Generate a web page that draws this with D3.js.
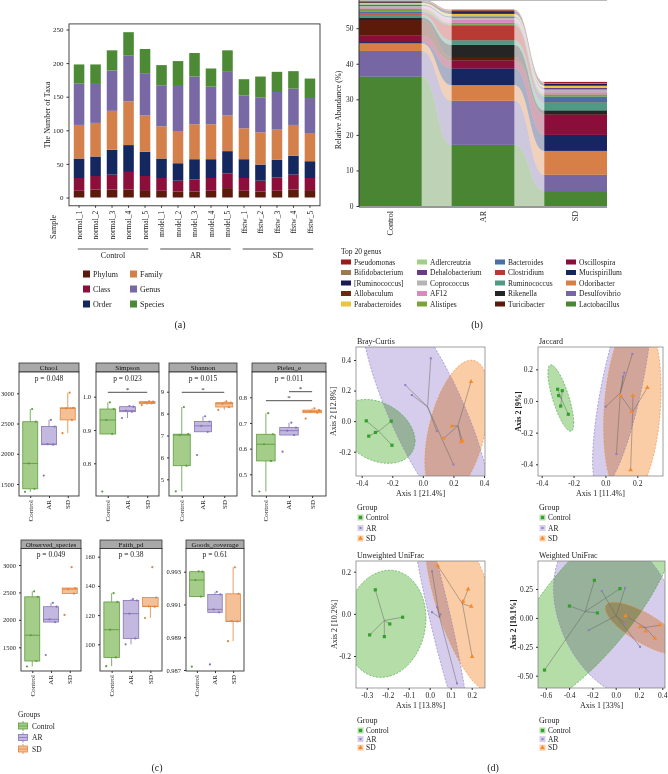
<!DOCTYPE html>
<html><head><meta charset="utf-8">
<script src="https://cdn.jsdelivr.net/npm/d3@7"></script>
<style>
body{margin:0;background:#fff}
svg{display:block;font-family:"Liberation Serif","DejaVu Serif",serif}
</style></head><body>
<svg id="fig" width="668" height="774"></svg>
<script>
// ---------- data: (a) number of taxa ----------
const samples = ["normal_1","normal_2","normal_3","normal_4","normal_5","model_1","model_2","model_3","model_4","model_5","ffstw_1","ffstw_2","ffstw_3","ffstw_4","ffstw_5"];
const taxaLevels = ["Phylum","Class","Order","Family","Genus","Species"];
const phylumN  = [10,12,12,12,11,10, 9, 9,10,14,10, 9,10,12,11];
const classN   = [19,20,22,26,21,19,16,18,19,22,19,16,20,22,18];
const orderN   = [29,29,37,40,36,29,26,30,28,33,28,24,26,28,25];
const familyN  = [50,50,58,65,54,48,48,52,52,53,46,48,45,46,42];
const genusN   = [62,58,60,68,63,61,67,71,56,65,49,52,56,54,52];
const speciesN = [28,29,30,35,36,30,37,35,27,32,24,31,30,26,29];
const taxaColors = ["#5b1a0c","#8c0f3b","#14275f","#d4804a","#7868a3","#4c8a36"];
const sampleGroups = [["Control",0,4],["AR",5,9],["SD",10,14]];

// ---------- data: (b) top 20 genus ----------
const genera = ["Pseudomonas","Bifidobacterium","[Ruminococcus]","Allobaculum","Parabacteroides","Adlercreutzia","Dehalobacterium","Coprococcus","AF12","Alistipes","Bacteroides","Clostridium","Ruminococcus","Rikenella","Turicibacter","Oscillospira","Mucispirillum","Odoribacter","Desulfovibrio","Lactobacillus"];
const genusColors = ["#9b1b1b","#9c7a4f","#1b1858","#6b2a10","#e8c440","#9fd08a","#6a3a8a","#b5b5b8","#d88ac0","#7aa43a","#4a6fa5","#b83a32","#4f9a85","#252525","#5c1a0b","#8b0d3a","#162660","#d67f46","#7766a4","#4a8534"];
const abundGroups = ["Control","AR","SD"];
const abundControl = [0.3,0.2,0.2,0.2,0.2,0.3,0.3,0.4,0.4,0.9,0.5,0.3,0.8,0.7,4.4,1.8,0.3,2.2,7.2,36.4];
const abundAR      = [0.2,0.2,0.5,0.3,0.3,0.4,0.3,0.6,0.9,0.5,0.3,4.1,1.3,3.4,1.0,2.2,4.7,4.4,12.4,17.2];
const abundSD      = [0.3,0.2,0.4,0.2,0.4,0.2,0.4,0.8,0.6,0.6,1.3,0.3,2.3,1.1,0.2,5.6,4.5,6.7,4.6,4.2];

// ---------- data: (c) alpha diversity (Control, AR, SD) ----------
const alphaGroups = ["Control","AR","SD"];
const chao1    = [[1370,1420,1840,2530,2740],[1640,2150,2160,2450,2560],[2340,2560,2750,2760,3010]];
const simpson  = [[0.715,0.888,0.930,0.963,0.983],[0.936,0.955,0.958,0.970,0.972],[0.975,0.980,0.982,0.985,0.986]];
const shannon  = [[4.45,5.62,7.02,7.06,8.30],[6.11,7.17,7.44,7.64,7.88],[8.17,8.30,8.45,8.50,8.56]];
const pielou   = [[0.433,0.552,0.617,0.656,0.738],[0.588,0.653,0.670,0.682,0.701],[0.717,0.740,0.745,0.750,0.757]];
const observed = [[1150,1250,1720,2420,2520],[1360,1960,2010,2240,2310],[2090,2480,2560,2580,2960]];
const faithPd  = [[85,91,110,129,135],[100,104,121,130,131],[118,125.8,126,132,152.8]];
const goods    = [[0.98720,0.99148,0.99249,0.99300,0.99302],[0.98734,0.99052,0.99070,0.99161,0.99177],[0.98876,0.98996,0.98998,0.99165,0.99327]];
const alphaNames = ["Chao1","Simpson","Shannon","Pieleu_e","Observed_species","Faith_pd","Goods_coverage"];
const alphaP = ["p = 0.048","p = 0.023","p = 0.015","p = 0.011","p = 0.049","p = 0.38","p = 0.61"];

// ---------- data: (d) PCoA coordinates ----------
const brayControl = [[-0.370,0.002],[-0.310,-0.074],[-0.354,-0.098],[-0.207,0.000],[-0.202,-0.158]];
const brayAR      = [[0.052,0.411],[-0.115,0.236],[-0.072,0.171],[0.091,-0.066],[0.200,-0.284]];
const braySD      = [[0.315,0.258],[0.189,-0.033],[0.135,-0.114],[0.250,-0.136],[0.259,-0.129]];
const jacControl  = [[-0.300,0.074],[-0.271,0.065],[-0.294,0.034],[-0.281,-0.032],[-0.233,-0.084]];
const jacAR       = [[0.169,0.297],[0.119,0.179],[0.110,0.154],[0.002,-0.036],[0.069,-0.335]];
const jacSD       = [[0.096,0.034],[0.173,0.034],[0.263,0.084],[0.163,-0.067],[0.158,-0.436]];
const uwControl   = [[-0.259,0.114],[-0.286,-0.100],[-0.216,-0.108],[-0.190,-0.048],[-0.129,-0.016]];
const uwAR        = [[0.011,0.202],[0.035,0.032],[0.051,-0.002],[0.011,0.008],[0.130,-0.330]];
const uwSD        = [[0.038,0.229],[0.183,0.117],[0.159,0.059],[0.198,0.035],[0.202,-0.203]];
const wControl    = [[-0.611,-0.451],[-0.397,0.103],[-0.183,0.325],[-0.157,0.043],[0.037,0.253]];
const wAR         = [[-0.120,0.233],[0.080,0.260],[-0.231,-0.106],[0.080,-0.049],[0.209,-0.250]];
const wSD         = [[0.086,0.017],[0.209,-0.078],[0.257,-0.115],[0.380,-0.063],[0.337,-0.178]];

const SERIF = '"Liberation Serif","DejaVu Serif",serif';
const svg = d3.select("#fig");
svg.append("rect").attr("width",668).attr("height",774).attr("fill","#fff");

function styleAxis(sel, size) {
	sel.select(".domain").remove();
	sel.selectAll("text").style("font-family",SERIF).style("font-size",size+"px").attr("fill","#222");
	sel.selectAll("line").attr("stroke","#333");
}
function rotLabel(g, x, y, text, size) {
	g.append("text")
		.attr("transform","translate("+x+","+y+") rotate(-90)")
		.attr("text-anchor","end")
		.attr("dy","0.35em")
		.style("font-size",size+"px")
		.attr("fill","#222")
		.text(text);
}
const minusFmt = f => d => d3.format(f)(d).replace("\u2212","-");

// =============== (a) ===============
const gA = svg.append("g");
const xA = d3.scaleBand().domain(samples).range([69,320]).paddingInner(0.36).paddingOuter(0.29);
const yA = d3.scaleLinear().domain([0,250]).range([197.5,29.5]);
const taxaCounts = [phylumN,classN,orderN,familyN,genusN,speciesN];
const taxaRows = samples.map((s,i) => {
	const o = {sample:s};
	taxaLevels.forEach((l,j) => o[l] = taxaCounts[j][i]);
	return o;
});
gA.selectAll("g.layer")
	.data(d3.stack().keys(taxaLevels)(taxaRows))
	.join("g")
	.attr("fill",(d,i) => taxaColors[i])
	.selectAll("rect")
	.data(d => d)
	.join("rect")
	.attr("x",d => xA(d.data.sample))
	.attr("width",xA.bandwidth())
	.attr("y",d => yA(d[1]))
	.attr("height",d => yA(d[0]) - yA(d[1]));
gA.append("rect")
	.attr("x",69).attr("y",yA(258.3))
	.attr("width",251).attr("height",yA(-12.3) - yA(258.3))
	.attr("fill","none").attr("stroke","#333").attr("stroke-width",0.9);
gA.append("g").attr("transform","translate(69,0)")
	.call(d3.axisLeft(yA).tickValues([0,50,100,150,200,250]).tickSize(2.5))
	.call(styleAxis,7);
gA.append("g").attr("transform","translate(0,"+yA(-12.3)+")")
	.call(d3.axisBottom(xA).tickSize(2).tickFormat(""))
	.call(styleAxis,7);
samples.forEach(s => rotLabel(gA, xA(s) + xA.bandwidth()/2, yA(-12.3) + 5, s, 7.5));
gA.append("text")
	.attr("transform","translate(47,115) rotate(-90)")
	.attr("text-anchor","middle").attr("dy","0.35em")
	.style("font-size","8px").attr("fill","#222").text("The Number of Taxa");
gA.append("text")
	.attr("transform","translate(53,227) rotate(-90)")
	.attr("text-anchor","middle").attr("dy","0.35em")
	.style("font-size","8px").attr("fill","#222").text("Sample");
sampleGroups.forEach(([name,a,b],i) => {
	const x0 = xA(samples[a]) + 4, x1 = xA(samples[b]) + xA.bandwidth() - 2;
	gA.append("line").attr("x1",x0).attr("x2",x1).attr("y1",249).attr("y2",249)
		.attr("stroke",i === 0 ? "#333" : "#888").attr("stroke-width",i === 0 ? 0.8 : 1.3);
	gA.append("text").attr("x",(x0+x1)/2).attr("y",258).attr("text-anchor","middle")
		.style("font-size","8px").attr("fill","#222").text(name);
});
taxaLevels.forEach((l,i) => {
	const col = Math.floor(i/3), row = i % 3;
	const lx = 83 + col*47, ly = 274 + row*15;
	gA.append("rect").attr("x",lx).attr("y",ly-3.5).attr("width",7).attr("height",7).attr("fill",taxaColors[i]);
	gA.append("text").attr("x",lx+10).attr("y",ly).attr("dy","0.35em")
		.style("font-size","8px").attr("fill","#222").text(l);
});
svg.append("text").attr("x",180).attr("y",328).attr("text-anchor","middle")
	.style("font-size","10px").attr("fill","#222").text("(a)");

// =============== (b) ===============
const gB = svg.append("g");
const xB = d3.scaleBand().domain(abundGroups).range([359,607]).paddingInner(0.324).paddingOuter(0);
const yB = d3.scaleLinear().domain([0,50]).range([206,28.2]);
const abundTable = [abundControl,abundAR,abundSD];
const abundRows = abundGroups.map((g,i) => {
	const o = {group:g};
	genera.forEach((k,j) => o[k] = abundTable[i][j]);
	return o;
});
const stackB = d3.stack().keys(genera.slice().reverse())(abundRows);
const flowArea = d3.area()
	.x(p => p.x).y0(p => yB(p.lo)).y1(p => yB(p.hi))
	.curve(d3.curveBumpX);
stackB.forEach(layer => {
	const col = genusColors[genera.indexOf(layer.key)];
	const pts = [];
	layer.forEach(d => {
		pts.push({x:xB(d.data.group), lo:d[0], hi:d[1]});
		pts.push({x:xB(d.data.group)+xB.bandwidth(), lo:d[0], hi:d[1]});
	});
	gB.append("path").attr("d",flowArea(pts)).attr("fill",col).attr("fill-opacity",0.36);
	gB.selectAll(null).data(layer).join("rect")
		.attr("x",d => xB(d.data.group)).attr("width",xB.bandwidth())
		.attr("y",d => yB(d[1])).attr("height",d => yB(d[0]) - yB(d[1]))
		.attr("fill",col);
});
gB.append("line").attr("x1",359).attr("x2",607).attr("y1",0.5).attr("y2",0.5).attr("stroke","#bbb");
gB.append("line").attr("x1",359).attr("x2",359).attr("y1",0).attr("y2",207).attr("stroke","#333");
gB.append("line").attr("x1",359).attr("x2",607).attr("y1",207).attr("y2",207).attr("stroke","#333");
gB.append("g").attr("transform","translate(359,0)")
	.call(d3.axisLeft(yB).tickValues([0,10,20,30,40,50]).tickSize(2.5))
	.call(styleAxis,7.5);
abundGroups.forEach(g => rotLabel(gB, xB(g)+xB.bandwidth()/2, 211, g, 8));
gB.append("text").attr("transform","translate(338,110) rotate(-90)")
	.attr("text-anchor","middle").attr("dy","0.35em")
	.style("font-size","8px").attr("fill","#222").text("Relative Abundance (%)");
gB.append("text").attr("x",341).attr("y",254).style("font-size","7.5px").attr("fill","#222").text("Top 20 genus");
const legColX = [341,417,495,566];
genera.forEach((k,i) => {
	const col = Math.floor(i/5), row = i % 5;
	const lx = legColX[col], ly = 262 + row*10.5;
	gB.append("rect").attr("x",lx).attr("y",ly-2.5).attr("width",10).attr("height",5).attr("fill",genusColors[i]);
	gB.append("text").attr("x",lx+13).attr("y",ly).attr("dy","0.35em")
		.style("font-size","7.5px").attr("fill","#222").text(k);
});
svg.append("text").attr("x",477).attr("y",328).attr("text-anchor","middle")
	.style("font-size","10px").attr("fill","#222").text("(b)");

// =============== (c) ===============
const gC = svg.append("g");
const boxStroke = ["#5e9c3f","#8674b8","#e0853f"];
const boxFill = ["#a5cd8a","#c3b8e0","#f6c096"];
const jitterOffsets = [-0.28,0.22,-0.08,0.3,0.1];
const facetRows = [{strip:363, top:372, bottom:496},{strip:540, top:548.5, bottom:671}];
const alphaData = [chao1,simpson,shannon,pielou,observed,faithPd,goods];
const facets = [
	{row:0, x:[19,79],   dom:[1500,3000], rng:[484,393.3],   ticks:[1500,2000,2500,3000], fmt:"d",   sig:[]},
	{row:0, x:[96,159],  dom:[0.8,1.0],   rng:[463.3,396.7], ticks:[0.8,0.9,1.0],         fmt:".1f", sig:[[0,2,392.3]]},
	{row:0, x:[169,237], dom:[5,9],       rng:[479.3,391.7], ticks:[5,6,7,8,9],           fmt:"d",   sig:[[0,2,392.3]]},
	{row:0, x:[252,326], dom:[0.5,0.8],   rng:[474.3,397.3], ticks:[0.5,0.6,0.7,0.8],     fmt:".1f", sig:[[0,2,400.7],[1,2,391.7]]},
	{row:1, x:[21,81],   dom:[1500,3000], rng:[647.3,565],   ticks:[1500,2000,2500,3000], fmt:"d",   sig:[]},
	{row:1, x:[100,162], dom:[100,160],   rng:[644.3,556.7], ticks:[100,120,140,160],     fmt:"d",   sig:[]},
	{row:1, x:[186,244], dom:[0.987,0.993], rng:[670,571.7], ticks:[0.987,0.989,0.991,0.993], fmt:".3f", sig:[]}
];
facets.forEach((f,fi) => {
	const r = facetRows[f.row];
	const g = gC.append("g");
	const xs = d3.scalePoint().domain(alphaGroups).range(f.x).padding(0.6);
	const ys = d3.scaleLinear().domain(f.dom).range(f.rng);
	const step = xs.step(), bw = step*0.8;
	g.append("rect").attr("x",f.x[0]).attr("y",r.strip).attr("width",f.x[1]-f.x[0]).attr("height",r.top-r.strip)
		.attr("fill","#a9a9a9").attr("stroke","#333").attr("stroke-width",0.8);
	g.append("text").attr("x",(f.x[0]+f.x[1])/2).attr("y",(r.strip+r.top)/2).attr("dy","0.35em")
		.attr("text-anchor","middle").style("font-size","7px").attr("fill","#111").text(alphaNames[fi]);
	g.append("rect").attr("x",f.x[0]).attr("y",r.top).attr("width",f.x[1]-f.x[0]).attr("height",r.bottom-r.top)
		.attr("fill","#fff").attr("stroke","#333").attr("stroke-width",0.9);
	g.append("g").attr("transform","translate("+f.x[0]+",0)")
		.call(d3.axisLeft(ys).tickValues(f.ticks).tickSize(2).tickFormat(d3.format(f.fmt)))
		.call(styleAxis,6.5);
	g.append("g").attr("transform","translate(0,"+r.bottom+")")
		.call(d3.axisBottom(xs).tickSize(2).tickFormat(""))
		.call(styleAxis,6.5);
	alphaGroups.forEach(gr => rotLabel(g, xs(gr), r.bottom+4, gr, 7));
	alphaData[fi].forEach((vals,gi) => {
		const v = vals.slice().sort(d3.ascending);
		const q1 = d3.quantile(v,0.25), med = d3.quantile(v,0.5), q3 = d3.quantile(v,0.75);
		const iqr = q3 - q1;
		const lo = d3.min(v.filter(d => d >= q1 - 1.5*iqr));
		const hi = d3.max(v.filter(d => d <= q3 + 1.5*iqr));
		const cx = xs(alphaGroups[gi]);
		g.append("line").attr("x1",cx).attr("x2",cx).attr("y1",ys(hi)).attr("y2",ys(q3)).attr("stroke",boxStroke[gi]).attr("stroke-width",0.8);
		g.append("line").attr("x1",cx).attr("x2",cx).attr("y1",ys(q1)).attr("y2",ys(lo)).attr("stroke",boxStroke[gi]).attr("stroke-width",0.8);
		g.append("rect").attr("x",cx-bw/2).attr("width",bw).attr("y",ys(q3)).attr("height",Math.max(0.5,ys(q1)-ys(q3)))
			.attr("fill",boxFill[gi]).attr("stroke",boxStroke[gi]).attr("stroke-width",0.8);
		g.append("line").attr("x1",cx-bw/2).attr("x2",cx+bw/2).attr("y1",ys(med)).attr("y2",ys(med))
			.attr("stroke",boxStroke[gi]).attr("stroke-width",0.9);
		vals.forEach((d,k) => {
			g.append("circle").attr("cx",cx + jitterOffsets[k]*step).attr("cy",ys(d)).attr("r",1.1).attr("fill",boxStroke[gi]);
		});
	});
	g.append("text").attr("x",(f.x[0]+f.x[1])/2).attr("y",r.top+8.5).attr("text-anchor","middle")
		.style("font-size","7.5px").attr("fill","#222").text(alphaP[fi]);
	f.sig.forEach(([a,b,yl]) => {
		const xa = xs(alphaGroups[a]), xb = xs(alphaGroups[b]);
		g.append("line").attr("x1",xa).attr("x2",xb).attr("y1",yl).attr("y2",yl).attr("stroke","#222").attr("stroke-width",0.8);
		g.append("text").attr("x",(xa+xb)/2).attr("y",yl-0.8).attr("text-anchor","middle")
			.style("font-size","7px").attr("fill","#222").text("*");
	});
});
gC.append("text").attr("x",18).attr("y",716.5).style("font-size","7.5px").attr("fill","#222").text("Groups");
alphaGroups.forEach((gr,i) => {
	const ly = 726 + i*11.5;
	gC.append("line").attr("x1",23).attr("x2",23).attr("y1",ly-5).attr("y2",ly+5).attr("stroke",boxStroke[i]).attr("stroke-width",0.8);
	gC.append("rect").attr("x",18.5).attr("y",ly-3).attr("width",9).attr("height",6)
		.attr("fill",boxFill[i]).attr("stroke",boxStroke[i]).attr("stroke-width",0.8);
	gC.append("line").attr("x1",18.5).attr("x2",27.5).attr("y1",ly).attr("y2",ly).attr("stroke",boxStroke[i]).attr("stroke-width",0.8);
	gC.append("text").attr("x",32).attr("y",ly).attr("dy","0.35em").style("font-size","7.5px").attr("fill","#222").text(gr);
});
svg.append("text").attr("x",157).attr("y",771).attr("text-anchor","middle")
	.style("font-size","10px").attr("fill","#222").text("(c)");

// =============== (d) ===============
// robust t ellipse, as ggplot's stat_ellipse default (MASS::cov.trob, level 0.95)
function covTrob(pts) {
	const n = pts.length, nu = 5, p = 2;
	let w = pts.map(() => 1);
	let loc = [d3.mean(pts,d => d[0]), d3.mean(pts,d => d[1])];
	let X;
	for (let it = 0; it < 25; it++) {
		const w0 = w.slice();
		X = pts.map(d => [d[0]-loc[0], d[1]-loc[1]]);
		const sw = d3.sum(w);
		let a = 0, b = 0, c = 0;
		X.forEach((x,i) => { a += w[i]/sw*x[0]*x[0]; b += w[i]/sw*x[0]*x[1]; c += w[i]/sw*x[1]*x[1]; });
		const det = a*c - b*b;
		const Q = X.map(x => (c*x[0]*x[0] - 2*b*x[0]*x[1] + a*x[1]*x[1]) / det);
		w = Q.map(q => (nu+p)/(nu+q));
		const sw2 = d3.sum(w);
		loc = [d3.sum(pts,(d,i) => w[i]*d[0])/sw2, d3.sum(pts,(d,i) => w[i]*d[1])/sw2];
		if (w.every((v,i) => Math.abs(v-w0[i]) < 0.01)) break;
	}
	let a = 0, b = 0, c = 0;
	X.forEach((x,i) => { a += w[i]*x[0]*x[0]; b += w[i]*x[0]*x[1]; c += w[i]*x[1]*x[1]; });
	return {center:loc, cov:[a/n, b/n, c/n]};
}
function ellipseOf(pts) {
	const fit = covTrob(pts);
	const dfd = pts.length - 1;
	const radius = Math.sqrt(2 * (dfd/2) * (Math.pow(0.05,-2/dfd) - 1));
	const [s11,s12,s22] = fit.cov;
	const r11 = Math.sqrt(s11), r12 = s12/r11, r22 = Math.sqrt(s22 - r12*r12);
	return d3.range(0,73).map(k => {
		const t = k*2*Math.PI/72, u1 = Math.cos(t), u2 = Math.sin(t);
		return [fit.center[0] + radius*u1*r11, fit.center[1] + radius*(u1*r12 + u2*r22)];
	});
}
const pcoaStroke = ["#4cae4c","#9386c2","#f0924a"];
const pcoaFill = ["#b5dda8","#d5cdeb","#fbcda6"];
const pcoaPoint = ["#33a02c","#8e7cc8","#f5892c"];
const pcoaPlots = [
	{title:"Bray-Curtis", sets:[brayControl,brayAR,braySD], box:[356,485,347,476], xd:[-0.4,0.4], xr:[361.7,484], yd:[-0.2,0.4], yr:[451.7,360],
	 xt:[-0.4,-0.2,0,0.2,0.4], yt:[-0.2,0,0.2,0.4], fx:".1f", fy:".1f", ax1:"Axis 1 [21.4%]", ax2:"Axis 2 [12.8%]", ax2x:333, legY:509.5, legStep:10.5, bold:false},
	{title:"Jaccard", sets:[jacControl,jacAR,jacSD], box:[538,663,347,476], xd:[-0.4,0.2], xr:[541.7,637.3], yd:[-0.4,0.2], yr:[464.3,369.3],
	 xt:[-0.4,-0.2,0,0.2], yt:[-0.4,-0.2,0,0.2], fx:".1f", fy:".1f", ax1:"Axis 1 [11.4%]", ax2:"Axis 2 [9%]", ax2x:518, legY:509.5, legStep:10.5, bold:true},
	{title:"Unweighted UniFrac", sets:[uwControl,uwAR,uwSD], box:[356,485,561,688], xd:[-0.3,0.2], xr:[366.7,471.7], yd:[-0.2,0.2], yr:[656,571.7],
	 xt:[-0.3,-0.2,-0.1,0,0.1,0.2], yt:[-0.2,0,0.2], fx:".1f", fy:".1f", ax1:"Axis 1 [13.8%]", ax2:"Axis 2 [10.2%]", ax2x:334, legY:722.5, legStep:8.6, bold:false},
	{title:"Weighted UniFrac", sets:[wControl,wAR,wSD], box:[538,665,561,688], xd:[-0.6,0.4], xr:[545.8,662.3], yd:[-0.5,0.25], yr:[675.7,589],
	 xt:[-0.6,-0.4,-0.2,0,0.2,0.4], yt:[-0.5,-0.25,0,0.25], fx:".1f", fy:".2f", ax1:"Axis 1 [33%]", ax2:"Axis 2 [19.1%]", ax2x:513, legY:722.5, legStep:8.6, bold:true}
];
function drawMarker(g, gi, x, y) {
	if (gi === 0) g.append("rect").attr("x",x-1.6).attr("y",y-1.6).attr("width",3.2).attr("height",3.2).attr("fill",pcoaPoint[0]);
	else if (gi === 1) g.append("rect").attr("x",x-1).attr("y",y-1).attr("width",2).attr("height",2).attr("fill",pcoaPoint[1]);
	else g.append("path").attr("d",d3.symbol(d3.symbolTriangle,9)()).attr("transform","translate("+x+","+y+")").attr("fill",pcoaPoint[2]);
}
pcoaPlots.forEach((pl,pi) => {
	const [bx0,bx1,by0,by1] = pl.box;
	const g = svg.append("g");
	const xs = d3.scaleLinear().domain(pl.xd).range(pl.xr);
	const ys = d3.scaleLinear().domain(pl.yd).range(pl.yr);
	const clipId = "clip"+pi;
	svg.append("clipPath").attr("id",clipId).append("rect").attr("x",bx0).attr("y",by0).attr("width",bx1-bx0).attr("height",by1-by0);
	const inner = g.append("g").attr("clip-path","url(#"+clipId+")");
	const line = d3.line().x(d => xs(d[0])).y(d => ys(d[1]));
	const fills = inner.append("g").style("isolation","isolate");
	pl.sets.forEach((pts,gi) => {
		fills.append("path").attr("d",line(ellipseOf(pts))).attr("fill",pcoaFill[gi]).style("mix-blend-mode","multiply");
	});
	pl.sets.forEach((pts,gi) => {
		inner.append("path").attr("d",line(ellipseOf(pts))).attr("fill","none")
			.attr("stroke",pcoaStroke[gi]).attr("stroke-width",0.7).attr("stroke-dasharray","2,1.5");
	});
	pl.sets.forEach((pts,gi) => {
		const cx = d3.mean(pts,d => d[0]), cy = d3.mean(pts,d => d[1]);
		pts.forEach(d => inner.append("line").attr("x1",xs(cx)).attr("y1",ys(cy)).attr("x2",xs(d[0])).attr("y2",ys(d[1]))
			.attr("stroke","#666").attr("stroke-width",0.5));
	});
	pl.sets.forEach((pts,gi) => pts.forEach(d => drawMarker(inner, gi, xs(d[0]), ys(d[1]))));
	g.append("rect").attr("x",bx0).attr("y",by0).attr("width",bx1-bx0).attr("height",by1-by0)
		.attr("fill","none").attr("stroke","#777").attr("stroke-width",0.7);
	g.append("g").attr("transform","translate(0,"+by1+")")
		.call(d3.axisBottom(xs).tickValues(pl.xt).tickSize(2).tickFormat(minusFmt(pl.fx)))
		.call(styleAxis,7.5);
	g.append("g").attr("transform","translate("+bx0+",0)")
		.call(d3.axisLeft(ys).tickValues(pl.yt).tickSize(2).tickFormat(minusFmt(pl.fy)))
		.call(styleAxis,7.5);
	g.append("text").attr("x",(bx0+bx1)/2).attr("y",by1+19.5).attr("text-anchor","middle")
		.style("font-size","8px").attr("fill","#222").text(pl.ax1);
	g.append("text").attr("transform","translate("+pl.ax2x+","+(by0+by1)/2+") rotate(-90)")
		.attr("text-anchor","middle").attr("dy","0.35em")
		.style("font-size","8px").style("font-weight",pl.bold ? "bold" : "normal").attr("fill","#222").text(pl.ax2);
	g.append("text").attr("x",bx0+1).attr("y",by0-3).style("font-size","8px").attr("fill","#222").text(pl.title);
	g.append("text").attr("x",bx0+1).attr("y",pl.legY).style("font-size","8px").attr("fill","#222").text("Group");
	alphaGroups.forEach((gr,i) => {
		const ly = pl.legY + 8 + i*pl.legStep;
		g.append("rect").attr("x",bx0+1.5).attr("y",ly-3).attr("width",6).attr("height",6).attr("fill",pcoaFill[i]);
		drawMarker(g, i, bx0+4.5, ly);
		g.append("text").attr("x",bx0+10).attr("y",ly).attr("dy","0.35em").style("font-size","7.5px").attr("fill","#222").text(gr);
	});
});
svg.append("text").attr("x",493).attr("y",771).attr("text-anchor","middle")
	.style("font-size","10px").attr("fill","#222").text("(d)");
</script></body></html>
